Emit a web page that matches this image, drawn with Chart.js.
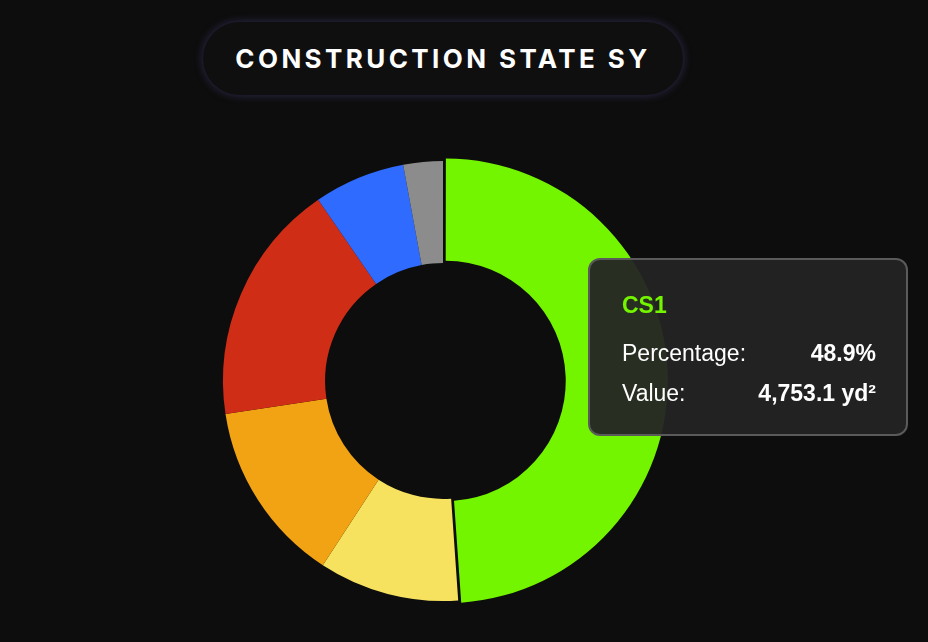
<!DOCTYPE html>
<html>
<head>
<meta charset="utf-8">
<script src="https://cdn.jsdelivr.net/npm/chart.js@4"></script>
<style>
  html, body { margin: 0; background: #0d0d0d; width: 928px; height: 642px; overflow: hidden; font-family: "Liberation Sans", Arial, sans-serif; }
  .title {
    position: absolute; left: 203px; top: 22px; width: 480px; height: 73px;
    background: #0f0f0f; border-radius: 37px;
    box-shadow: 0 0 10px rgba(110, 100, 200, 0.35);
    color: #fff; font-family: "Inter", sans-serif; font-weight: 700; font-size: 26px;
    letter-spacing: 3.4px; display: flex; align-items: center; justify-content: center;
  }
  #wrap { position: absolute; left: 213px; top: 151px; width: 460px; height: 460px; }
  #tip {
    position: absolute; left: 588px; top: 258px; width: 316px; height: 174px;
    background: rgba(36, 36, 36, 0.95); border: 2px solid #5a5a5a; border-radius: 12px;
    color: #fff; font-size: 23px; display: none;
  }
  #tip .t { position: absolute; left: 32px; top: 32px; color: #74f500; font-weight: 700; font-size: 23px; }
  #tip .row { position: absolute; left: 32px; right: 30px; display: flex; justify-content: space-between; }
  #tip .row b { font-weight: 700; }
</style>
</head>
<body>
<div class="title">CONSTRUCTION STATE SY</div>
<div id="wrap"><canvas id="c" width="460" height="460"></canvas></div>
<div id="tip"></div>
<script>
const labels = ['CS1', 'CS2', 'CS3', 'CS4', 'CS5', 'Unknown'];
const values = [4753.1, 1001.2, 1302.5, 1730.2, 651.2, 281.9];
const colors = ['#74f500', '#f6e25e', '#f1a314', '#d02d16', '#2f6bff', '#8c8c8c'];
const total = values.reduce((a, b) => a + b, 0);

function externalTip(context) {
  const tip = document.getElementById('tip');
  const t = context.tooltip;
  if (!t || t.opacity === 0 || !t.dataPoints || !t.dataPoints.length) { tip.style.display = 'none'; return; }
  const dp = t.dataPoints[0];
  const v = values[dp.dataIndex];
  const pct = (v / total * 100).toFixed(1);
  tip.innerHTML =
    `<div class="t">${labels[dp.dataIndex]}</div>` +
    `<div class="row" style="top:80px"><span>Percentage:</span><b>${pct}%</b></div>` +
    `<div class="row" style="top:120px"><span>Value:</span><b>${v.toLocaleString('en-US', {minimumFractionDigits: 1})} yd²</b></div>`;
  tip.style.display = 'block';
}

const chart = new Chart(document.getElementById('c'), {
  type: 'doughnut',
  data: {
    labels: labels,
    datasets: [{
      data: values,
      backgroundColor: colors,
      hoverBackgroundColor: colors,
      borderWidth: 0,
      hoverBorderWidth: 0,
      hoverOffset: 10
    }]
  },
  options: {
    responsive: false,
    animation: false,
    cutout: '53.6%',
    layout: { padding: 10 },
    plugins: {
      legend: { display: false },
      tooltip: { enabled: false, external: externalTip }
    }
  }
});

chart.setActiveElements([{ datasetIndex: 0, index: 0 }]);
chart.tooltip.setActiveElements([{ datasetIndex: 0, index: 0 }], { x: 600, y: 300 });
chart.update();
</script>
</body>
</html>
